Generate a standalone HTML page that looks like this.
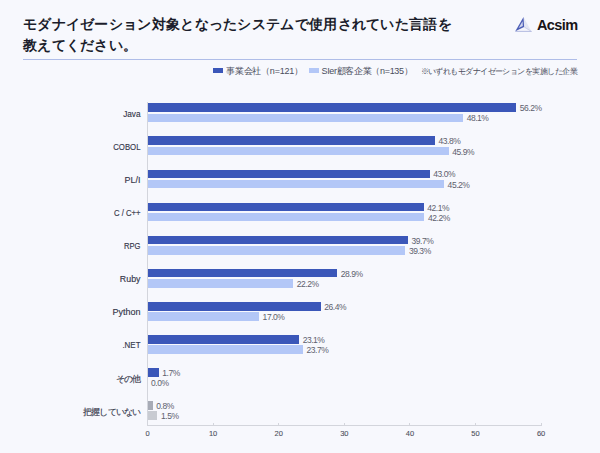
<!DOCTYPE html>
<html lang="ja"><head><meta charset="utf-8">
<style>
html,body{margin:0;padding:0;}
body{width:600px;height:453px;background:#f7f8fd;position:relative;overflow:hidden;font-family:"Liberation Sans",sans-serif;}
.title{position:absolute;left:23px;top:14px;font-size:14px;line-height:21px;letter-spacing:0.3px;font-weight:bold;color:#1b1d2b;white-space:nowrap;}
.rule{position:absolute;left:23px;top:59px;width:554px;height:1px;background:#afbde8;}
.logo{position:absolute;left:537px;top:14.5px;font-size:14.5px;letter-spacing:-0.6px;font-weight:bold;color:#1a1517;line-height:20px;}
.leg{position:absolute;top:65px;font-size:9px;line-height:12px;color:#4a4d5c;white-space:nowrap;}
.sw{position:absolute;top:68px;width:9.5px;height:5px;}
.axisv{position:absolute;left:147px;top:102px;width:1px;height:324px;background:#d3d5dc;}
.axish{position:absolute;left:147px;top:425px;width:395px;height:1.4px;background:#d3d5dc;}
.tick{position:absolute;top:423px;width:1px;height:3px;background:#d3d5dc;}
.tl{position:absolute;top:427.5px;width:40px;text-align:center;font-size:7.5px;line-height:12px;color:#4e5160;-webkit-text-stroke:0.1px #4e5160;}
.cat{position:absolute;left:0;width:140.5px;text-align:right;font-size:9.5px;line-height:20px;color:#35374a;-webkit-text-stroke:0.15px #35374a;white-space:nowrap;transform:scaleX(0.88);transform-origin:140.5px 0;}
.cat.jp{font-size:9px;letter-spacing:-0.8px;transform:none;}
.bar{position:absolute;left:148px;height:8.6px;}
.val{position:absolute;font-size:8.5px;line-height:20px;letter-spacing:-0.45px;color:#5d606d;white-space:nowrap;}
</style></head><body>
<div class="title">モダナイゼーション対象となったシステムで使用されていた言語を<br>教えてください。</div>
<div class="rule"></div>
<svg style="position:absolute;left:0;top:0" width="600" height="453">
<polygon points="523.5,16.9 531.5,31.5 524.1,26.9" fill="#e3e6f3"/>
<polygon points="515.3,31.3 524.1,26.9 531.5,31.5" fill="#f3f4fa"/>
<line x1="515.3" y1="31.4" x2="531.5" y2="31.4" stroke="#9ea8d8" stroke-width="0.75"/>
<line x1="524.1" y1="26.9" x2="531.5" y2="31.5" stroke="#b3bbe0" stroke-width="0.6"/>
<polygon points="523.5,16.9 515.3,31.3 524.1,26.9" fill="#4c5eb6"/>
<polygon points="522.6,21.3 518.6,27.9 522.8,26.1" fill="#d0d5ee"/>
</svg>
<div class="logo">Acsim</div>
<div class="sw" style="left:213px;background:#3b57b9"></div>
<div class="leg" style="left:226px;letter-spacing:-0.23px">事業会社（n=121）</div>
<div class="sw" style="left:309px;background:#b3c7f7"></div>
<div class="leg" style="left:321.5px;letter-spacing:-0.33px">SIer顧客企業（n=135）</div>
<div class="leg" style="left:420.5px;font-size:8px;top:65.5px;letter-spacing:-0.55px">※いずれもモダナイゼーションを実施した企業</div>
<div class="axisv"></div><div class="axish"></div>
<div class="tick" style="left:147.00px"></div><div class="tl" style="left:127.50px">0</div><div class="tick" style="left:212.60px"></div><div class="tl" style="left:193.10px">10</div><div class="tick" style="left:278.20px"></div><div class="tl" style="left:258.70px">20</div><div class="tick" style="left:343.80px"></div><div class="tl" style="left:324.30px">30</div><div class="tick" style="left:409.40px"></div><div class="tl" style="left:389.90px">40</div><div class="tick" style="left:475.00px"></div><div class="tl" style="left:455.50px">50</div><div class="tick" style="left:540.60px"></div><div class="tl" style="left:521.10px">60</div>
<div class="cat" style="top:103.75px;transform:scaleX(0.865)">Java</div><div class="bar" style="top:103.35px;width:368.17px;background:#3b57b9"></div><div class="val" style="top:98.25px;left:519.77px">56.2%</div><div class="bar" style="top:113.55px;width:315.04px;background:#b3c7f7"></div><div class="val" style="top:108.45px;left:466.64px">48.1%</div><div class="cat" style="top:136.85px;transform:scaleX(0.82)">COBOL</div><div class="bar" style="top:136.45px;width:286.83px;background:#3b57b9"></div><div class="val" style="top:131.35px;left:438.43px">43.8%</div><div class="bar" style="top:146.65px;width:300.60px;background:#b3c7f7"></div><div class="val" style="top:141.55px;left:452.20px">45.9%</div><div class="cat" style="top:169.95px;transform:scaleX(0.94)">PL/I</div><div class="bar" style="top:169.55px;width:281.58px;background:#3b57b9"></div><div class="val" style="top:164.45px;left:433.18px">43.0%</div><div class="bar" style="top:179.75px;width:296.01px;background:#b3c7f7"></div><div class="val" style="top:174.65px;left:447.61px">45.2%</div><div class="cat" style="top:203.05px;transform:scaleX(0.81)">C / C++</div><div class="bar" style="top:202.65px;width:275.68px;background:#3b57b9"></div><div class="val" style="top:197.55px;left:427.28px">42.1%</div><div class="bar" style="top:212.85px;width:276.33px;background:#b3c7f7"></div><div class="val" style="top:207.75px;left:427.93px">42.2%</div><div class="cat" style="top:236.15px;transform:scaleX(0.8)">RPG</div><div class="bar" style="top:235.75px;width:259.93px;background:#3b57b9"></div><div class="val" style="top:230.65px;left:411.53px">39.7%</div><div class="bar" style="top:245.95px;width:257.31px;background:#b3c7f7"></div><div class="val" style="top:240.85px;left:408.91px">39.3%</div><div class="cat" style="top:269.25px;transform:scaleX(0.93)">Ruby</div><div class="bar" style="top:268.85px;width:189.08px;background:#3b57b9"></div><div class="val" style="top:263.75px;left:340.68px">28.9%</div><div class="bar" style="top:279.05px;width:145.13px;background:#b3c7f7"></div><div class="val" style="top:273.95px;left:296.73px">22.2%</div><div class="cat" style="top:302.35px;transform:scaleX(0.947)">Python</div><div class="bar" style="top:301.95px;width:172.68px;background:#3b57b9"></div><div class="val" style="top:296.85px;left:324.28px">26.4%</div><div class="bar" style="top:312.15px;width:111.02px;background:#b3c7f7"></div><div class="val" style="top:307.05px;left:262.62px">17.0%</div><div class="cat" style="top:335.45px;transform:scaleX(0.836)">.NET</div><div class="bar" style="top:335.05px;width:151.04px;background:#3b57b9"></div><div class="val" style="top:329.95px;left:302.64px">23.1%</div><div class="bar" style="top:345.25px;width:154.97px;background:#b3c7f7"></div><div class="val" style="top:340.15px;left:306.57px">23.7%</div><div class="cat jp" style="top:368.55px">その他</div><div class="bar" style="top:368.15px;width:10.65px;background:#3b57b9"></div><div class="val" style="top:363.05px;left:162.25px">1.7%</div><div class="val" style="top:373.25px;left:151.10px">0.0%</div><div class="cat jp" style="top:401.65px">把握していない</div><div class="bar" style="top:401.25px;width:4.75px;background:#a7abb6"></div><div class="val" style="top:396.15px;left:156.35px">0.8%</div><div class="bar" style="top:411.45px;width:9.34px;background:#c8cbd2"></div><div class="val" style="top:406.35px;left:160.94px">1.5%</div>
</body></html>
